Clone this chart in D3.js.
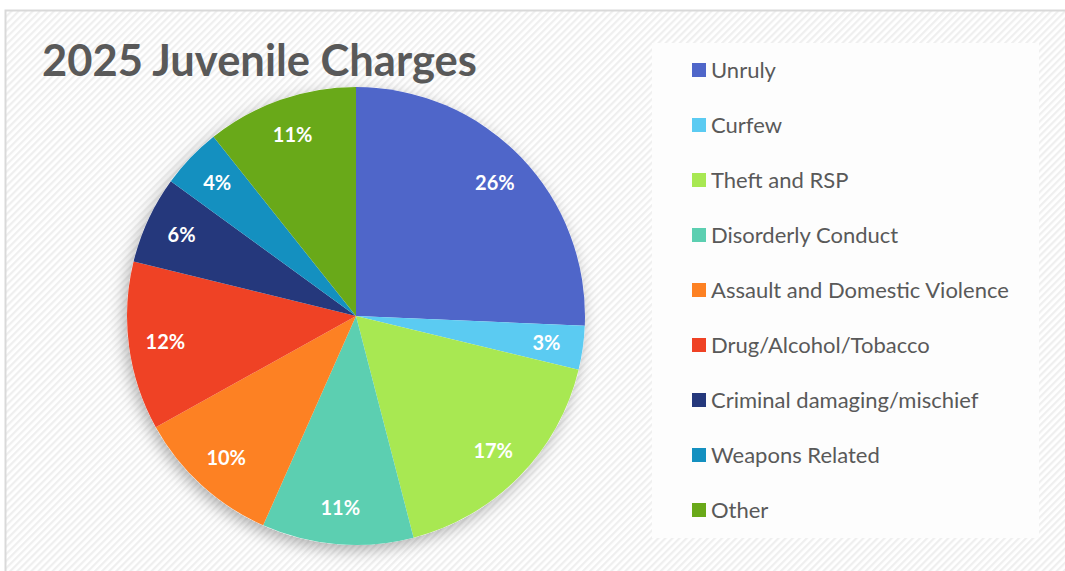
<!DOCTYPE html>
<html>
<head>
<meta charset="utf-8">
<script src="https://cdn.jsdelivr.net/npm/d3@7"></script>
<style>
  body { margin: 0; background: #fff; }
  svg { display: block; }
</style>
</head>
<body>
<svg id="chart" width="1065" height="571"></svg>
<script>
// chart data
const categories = ['Unruly', 'Curfew', 'Theft and RSP', 'Disorderly Conduct',
  'Assault and Domestic Violence', 'Drug/Alcohol/Tobacco',
  'Criminal damaging/mischief', 'Weapons Related', 'Other'];
const shares = [25.7, 3.1, 17.2, 10.7, 10.3, 11.9, 6.2, 4.3, 10.7];
const colors = ['#4f66c9', '#5bcbf2', '#a8e852', '#5ccfb1', '#fd8123',
  '#ef4225', '#25387c', '#1490c0', '#69a919'];
const title = '2025 Juvenile Charges';

const data = categories.map((c, i) => ({ label: c, value: shares[i], color: colors[i] }));

const svg = d3.select('#chart');
const defs = svg.append('defs');

// diagonal hatch background
const pat = defs.append('pattern')
  .attr('id', 'hatch')
  .attr('patternUnits', 'userSpaceOnUse')
  .attr('width', 5).attr('height', 5)
  .attr('patternTransform', 'rotate(45)');
pat.append('rect').attr('width', 5).attr('height', 5).attr('fill', '#ffffff');
pat.append('rect').attr('width', 2.2).attr('height', 5).attr('fill', '#efefef');

const shadow = defs.append('filter').attr('id', 'shadow')
  .attr('x', '-20%').attr('y', '-20%').attr('width', '140%').attr('height', '140%');
shadow.append('feDropShadow')
  .attr('dx', -3).attr('dy', 5).attr('stdDeviation', 8)
  .attr('flood-color', '#000').attr('flood-opacity', 0.3);

// frame
svg.append('rect')
  .attr('x', 5.5).attr('y', 10.5)
  .attr('width', 1080).attr('height', 580)
  .attr('fill', 'url(#hatch)')
  .attr('stroke', '#d9d9d9').attr('stroke-width', 2);

// title
const t = svg.append('text')
  .attr('x', 42).attr('y', 76)
  .attr('font-family', 'Lato, "Open Sans", sans-serif')
  .attr('font-weight', 'bold')
  .attr('font-size', 44)
  .attr('fill', '#595959')
  .text(title);
const tw = t.node().getComputedTextLength();
t.attr('font-size', 44 * 435 / tw);

// pie
const cx = 356, cy = 316, radius = 229;
const pie = d3.pie().value(d => d.value).sort(null);
const arc = d3.arc().innerRadius(0).outerRadius(radius);
const labelArc = d3.arc().innerRadius(radius * 0.84).outerRadius(radius * 0.84);
const arcs = pie(data);

const g = svg.append('g').attr('transform', `translate(${cx},${cy})`);
g.append('circle').attr('r', radius).attr('fill', '#fff').attr('filter', 'url(#shadow)');
g.selectAll('path.slice').data(arcs).enter()
  .append('path')
  .attr('class', 'slice')
  .attr('d', arc)
  .attr('fill', d => d.data.color);

g.selectAll('text.pct').data(arcs).enter()
  .append('text')
  .attr('class', 'pct')
  .attr('transform', d => `translate(${labelArc.centroid(d)})`)
  .attr('text-anchor', 'middle')
  .attr('dy', '0.36em')
  .attr('font-family', 'Lato, "Open Sans", sans-serif')
  .attr('font-weight', 'bold')
  .attr('font-size', 20)
  .attr('fill', '#ffffff')
  .text(d => Math.round(d.data.value) + '%');

// legend
svg.append('rect')
  .attr('x', 652).attr('y', 43)
  .attr('width', 387).attr('height', 495)
  .attr('fill', '#fdfdfd');

const ly = d3.scalePoint().domain(categories).range([70, 510]);
const leg = svg.append('g').selectAll('g').data(data).enter()
  .append('g')
  .attr('transform', d => `translate(692,${ly(d.label)})`);
leg.append('rect')
  .attr('x', 0).attr('y', -7)
  .attr('width', 14).attr('height', 14)
  .attr('fill', d => d.color);
leg.append('text')
  .attr('x', 19).attr('dy', '0.35em')
  .attr('font-family', 'Lato, "Open Sans", sans-serif')
  .attr('font-size', 22)
  .attr('fill', '#595959')
  .text(d => d.label);
</script>
</body>
</html>
